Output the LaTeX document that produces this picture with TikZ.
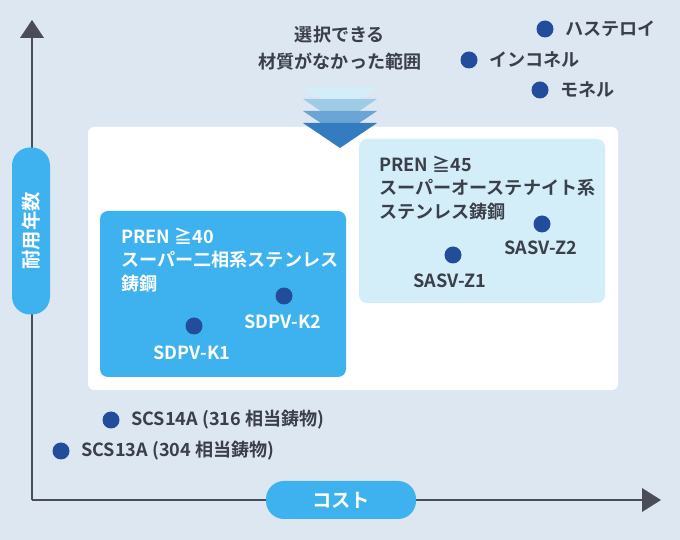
\documentclass[tikz,border=0pt]{standalone}
\usepackage{fontspec}
\setmainfont{Noto Sans CJK JP}[BoldFont={Noto Sans CJK JP Bold}]
\definecolor{bgblue}{HTML}{DDE7F2}
\definecolor{brightblue}{HTML}{3EB2EE}
\definecolor{paleblue}{HTML}{D3EEF8}
\definecolor{dotblue}{HTML}{234C9A}
\definecolor{axisgray}{HTML}{4A4C58}
\definecolor{txtgray}{HTML}{3A3F4A}
\definecolor{chevA}{HTML}{D3EEF8}
\definecolor{chevB}{HTML}{9FCBE6}
\definecolor{chevC}{HTML}{6BA5D6}
\definecolor{chevD}{HTML}{337CC0}
\tikzset{
  pt/.style={circle,fill=dotblue,inner sep=0pt,minimum size=17\px},
  lbl/.style={font=\bfseries\fontsize{10.3}{12.5}\selectfont,text=txtgray,inner sep=0pt},
  pill/.style={fill=brightblue,rounded corners=18\px,text=white,inner sep=0pt,font=\bfseries\fontsize{11}{12}\selectfont}
}
\newlength{\px}\setlength{\px}{0.02cm}
\begin{document}
\begin{tikzpicture}[x=0.02cm,y=-0.02cm]
  \fill[bgblue] (0,0) rectangle (680,540);
  \useasboundingbox (0,0) rectangle (680,540);
  % boxes
  \fill[white,rounded corners=6\px] (88,127) rectangle (618,390);
  \fill[brightblue,rounded corners=8\px] (100,211) rectangle (346,377);
  \fill[paleblue,rounded corners=8\px] (359,139) rectangle (605,303);
  % axes
  \draw[axisgray,line width=1.2pt] (32,500) -- (32,36);
  \draw[axisgray,line width=1.2pt] (32,500) -- (645,500);
  \fill[axisgray] (20,38) -- (32,20) -- (44,38) -- cycle;
  \fill[axisgray] (642,488) -- (661,500) -- (642,512) -- cycle;
  % axis labels
  \node[pill,minimum width=167\px,minimum height=38\px,rotate=90] (ylab) at (31,231) {耐用年数};
  \node[pill,minimum width=150\px,minimum height=38\px] (xlab) at (341,500) {コスト};
  % chevrons
  \foreach \c [count=\i from 0] in {chevA,chevB,chevC,chevD}
    \fill[\c] (303,87+12*\i) -- (377,87+12*\i) -- (340,112+12*\i) -- cycle;
  \node[lbl,align=center] (range) at (340,48) {選択できる\\[3pt]材質がなかった範囲};
  % materials
  \node[pt] (has) at (545,29) {};
  \node[lbl,anchor=west] at (565,29) {ハステロイ};
  \node[pt] (inc) at (469,60) {};
  \node[lbl,anchor=west] at (489,60) {インコネル};
  \node[pt] (mon) at (540,90) {};
  \node[lbl,anchor=west] at (560,90) {モネル};
  \node[pt] (scs14) at (111,420) {};
  \node[lbl,anchor=west] at (131,420) {SCS14A (316 相当鋳物)};
  \node[pt] (scs13) at (61,451) {};
  \node[lbl,anchor=west] at (81,451) {SCS13A (304 相当鋳物)};
  % super duplex
  \node[lbl,text=white,anchor=west,align=left] (duplex) at (121,260)
    {PREN ≧40\\[1pt]スーパー二相系ステンレス\\[1pt]鋳鋼};
  \node[pt] (k1) at (194,326) {};
  \node[lbl,text=white] at (192,353) {SDPV-K1};
  \node[pt] (k2) at (284,296) {};
  \node[lbl,text=white] at (283,322) {SDPV-K2};
  % super austenitic
  \node[lbl,anchor=west,align=left] (austen) at (379,188)
    {PREN ≧45\\[1pt]スーパーオーステナイト系\\[1pt]ステンレス鋳鋼};
  \node[pt] (z1) at (453,255) {};
  \node[lbl] at (450,281) {SASV-Z1};
  \node[pt] (z2) at (542,224) {};
  \node[lbl] at (541,248) {SASV-Z2};
\end{tikzpicture}
\end{document}
